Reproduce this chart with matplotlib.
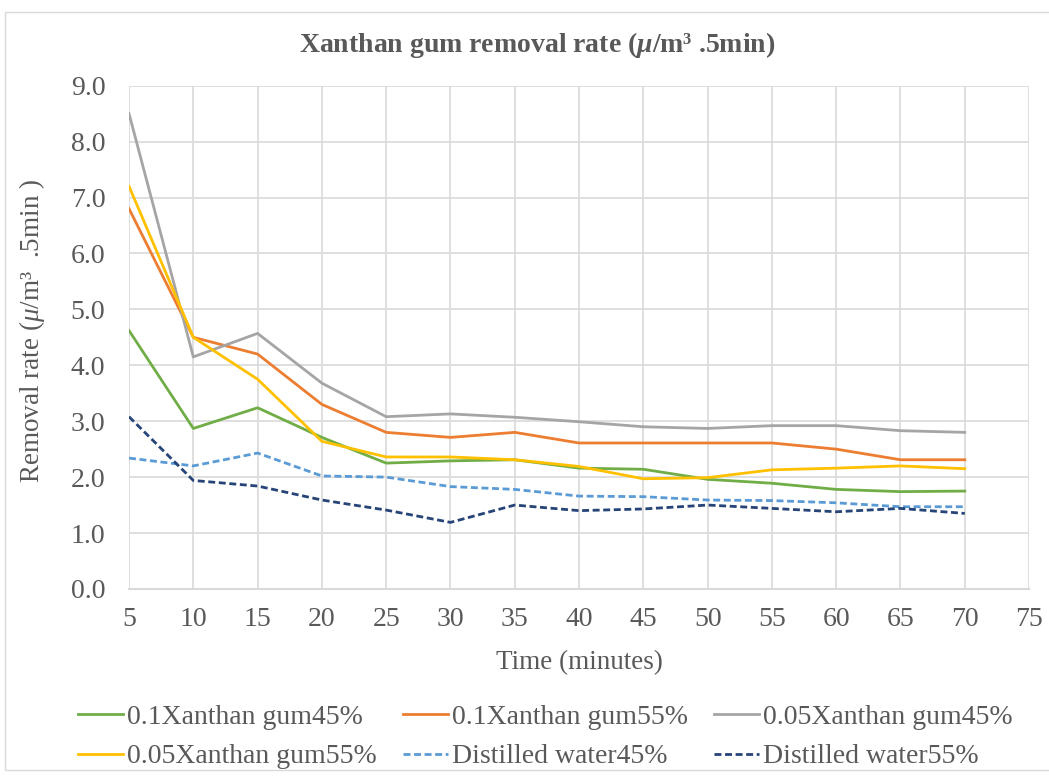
import matplotlib
matplotlib.use("Agg")
import matplotlib.pyplot as plt
from matplotlib.patches import Rectangle
from matplotlib.ticker import FormatStrFormatter
import numpy as np

plt.rcParams['font.family'] = ['Liberation Serif', 'DejaVu Sans']
plt.rcParams['mathtext.fontset'] = 'custom'
plt.rcParams['mathtext.rm'] = 'Liberation Serif'
plt.rcParams['mathtext.it'] = 'Liberation Serif:italic'
plt.rcParams['mathtext.bf'] = 'Liberation Serif:bold:italic'

# Sampling times (minutes)
time_min = [5, 10, 15, 20, 25, 30, 35, 40, 45, 50, 55, 60, 65, 70]

# Removal rate per series
xg01_45 = [4.62, 2.87, 3.24, 2.71, 2.25, 2.29, 2.31, 2.16, 2.14, 1.96, 1.89, 1.78, 1.74, 1.75]
xg01_55 = [6.80, 4.50, 4.20, 3.30, 2.80, 2.71, 2.80, 2.61, 2.61, 2.61, 2.61, 2.50, 2.31, 2.31]
xg005_45 = [8.50, 4.15, 4.57, 3.68, 3.08, 3.13, 3.07, 2.99, 2.90, 2.87, 2.92, 2.92, 2.83, 2.80]
xg005_55 = [7.20, 4.50, 3.75, 2.64, 2.36, 2.36, 2.31, 2.19, 1.97, 1.99, 2.13, 2.16, 2.20, 2.15]
water_45 = [2.34, 2.20, 2.43, 2.02, 2.00, 1.83, 1.78, 1.66, 1.65, 1.59, 1.58, 1.54, 1.47, 1.47]
water_55 = [3.08, 1.94, 1.84, 1.59, 1.41, 1.19, 1.50, 1.40, 1.43, 1.50, 1.44, 1.38, 1.44, 1.35]

series = [
    ("0.1Xanthan gum45%", xg01_45, "#70AD47", "-"),
    ("0.1Xanthan gum55%", xg01_55, "#ED7D31", "-"),
    ("0.05Xanthan gum45%", xg005_45, "#A5A5A5", "-"),
    ("0.05Xanthan gum55%", xg005_55, "#FFC000", "-"),
    ("Distilled water45%", water_45, "#5B9BD5", "--"),
    ("Distilled water55%", water_55, "#264478", "--"),
]

fig = plt.figure(figsize=(10.49, 7.79), dpi=100)
fig.patches.append(Rectangle((0.005, 0.012), 1.0, 0.972, transform=fig.transFigure,
                             fill=False, edgecolor="#d9d9d9", linewidth=1))
ax = fig.add_axes([0.123, 0.244, 0.858, 0.646])

handles = []
for label, values, color, style in series:
    line, = ax.plot(time_min, values, style, color=color, linewidth=2, label=label)
    if style == "--":
        line.set_dashes((2.5, 1.3))
    handles.append(line)

ax.set_xlim(5, 75)
ax.set_ylim(0, 9)
ax.set_xticks(np.arange(5, 76, 5))
ax.set_yticks(np.arange(0, 9.1, 1))
ax.yaxis.set_major_formatter(FormatStrFormatter('%.1f'))
ax.grid(True, color="#d9d9d9", linewidth=1.2)
ax.set_axisbelow(True)
for side in ["top", "right", "left"]:
    ax.spines[side].set_visible(False)
ax.spines["bottom"].set_color("#d9d9d9")
ax.spines["bottom"].set_linewidth(1.5)
ax.tick_params(axis="y", length=0, labelsize=20, colors="#595959", pad=17)
ax.tick_params(axis="x", length=0, labelsize=20, colors="#595959", pad=13)

ax.set_xlabel("Time (minutes)", fontsize=19.5, color="#595959", labelpad=13)
fig.text(32 / 1049, 0.575, "Removal rate ($\\mu$/m³  .5min )", rotation=90, ha="center", va="center",
         fontsize=19.5, color="#595959")
fig.text(0.512, 0.942, "Xanthan gum removal rate ($\\mathbf{\\mu}$/m³ .5min)", ha="center", va="center",
         fontsize=20, fontweight="bold", color="#595959")

# legend fills row by row: reorder handles for column-major layout
ncol = 3
order = [i + r * ncol for i in range(ncol) for r in range(2)]
fig.legend(handles=[handles[i] for i in order], loc="center", bbox_to_anchor=(0.52, 0.054), ncol=ncol,
           frameon=False, fontsize=20, handlelength=1.6, handletextpad=0.15,
           columnspacing=0.95, labelspacing=0.5, labelcolor="#595959", borderpad=0)

fig.savefig("out.png", dpi=100)
